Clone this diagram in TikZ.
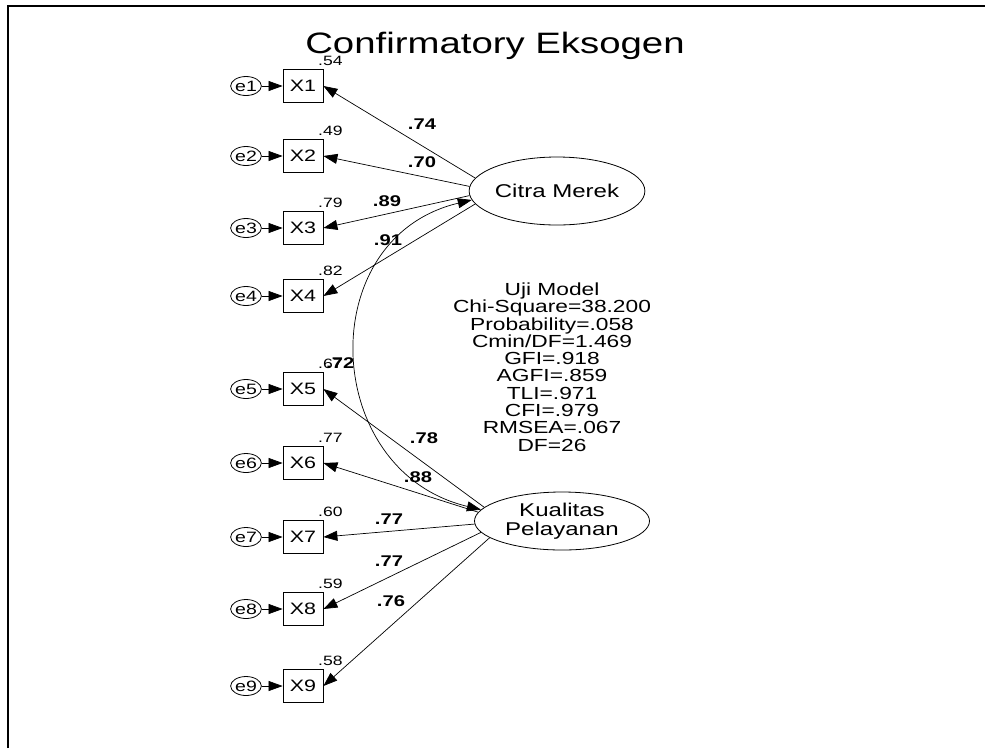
\documentclass[tikz,border=0pt]{standalone}
\usepackage{fontspec}
\setmainfont{Liberation Sans}[FakeStretch=1.3]
\usetikzlibrary{arrows.meta,shapes.geometric}
\begin{document}
\begin{tikzpicture}[x=1pt,y=-1pt,
  obs/.style={draw, line width=0.8pt, minimum width=40pt, minimum height=33pt, inner sep=0pt,
              font=\fontsize{16.5}{16.5}\selectfont},
  err/.style={draw, line width=0.8pt, ellipse, minimum width=30pt, minimum height=19pt, inner sep=0pt,
              font=\fontsize{15}{15}\selectfont},
  lat/.style={draw, line width=0.8pt, ellipse, inner sep=0pt, align=center,
              font=\fontsize{18.5}{19}\selectfont},
  arr/.style={line width=0.7pt, -{Triangle[length=14pt,width=10pt]}},
  earr/.style={line width=0.7pt, -{Triangle[length=14pt,width=10pt]}},
  var/.style={anchor=base west, inner sep=0pt, font=\fontsize{13.5}{13.5}\selectfont},
  lab/.style={inner sep=0pt, font=\bfseries\fontsize{15.5}{15.5}\selectfont},
]
\useasboundingbox (0,0) rectangle (985,748);
% frame edges
\draw[line width=2pt] (8,748) -- (8,6) -- (985,6);

% title
\node[anchor=base, font=\fontsize{29.5}{30}\selectfont] (title) at (495,53) {Confirmatory Eksogen};

% latent variables
\node[lat, minimum width=171pt, minimum height=68pt] (cm) at (557,191) {Citra Merek};
\node[lat, minimum width=175pt, minimum height=58pt] (kp) at (562,521) {Kualitas\\Pelayanan};

% indicators, errors and squared multiple correlations
\foreach \i/\y/\r in {1/86/.54, 2/156/.49, 3/228/.79, 4/296/.82, 5/389/.67, 6/463/.77, 7/537/.60, 8/609/.59, 9/686/.58}{
  \node[obs] (x\i) at (303,\y) {X\i};
  \node[err] (e\i) at (246,\y) {e\i};
  \draw[earr] (e\i) -- (x\i);
  \node[var] (r\i) at (318,\y-20.5) {\r};
}

% loadings
\draw[arr] (cm.171) -- (x1.east);
\draw[arr] (cm.177) -- (x2.east);
\draw[arr] (cm.183) -- (x3.east);
\draw[arr] (cm.189) -- (x4.east);
\draw[arr] (kp.170) -- (x5.east);
\draw[arr] (kp.174) -- (x6.east);
\draw[arr] (kp.182) -- (x7.east);
\draw[arr] (kp.188) -- (x8.east);
\draw[arr] (kp.193) -- (x9.east);

\node[lab] (l1) at (422,124) {.74};
\node[lab] (l2) at (422,162) {.70};
\node[lab] (l3) at (387,201) {.89};
\node[lab] (l4) at (388,240) {.91};
\node[lab] (l5) at (424,438) {.78};
\node[lab] (l6) at (418,477) {.88};
\node[lab] (l7) at (389,519) {.77};
\node[lab] (l8) at (389,561) {.77};
\node[lab] (l9) at (391,601) {.76};

% covariance between the latent variables
\draw[line width=0.7pt, {Triangle[length=14pt,width=10pt]}-{Triangle[length=14pt,width=10pt]}]
  (cm.186) .. controls +(-160,38) and +(-160,-38) .. (kp.172);
\node[lab, anchor=base west] (cv) at (326,368) {.72};

% fit statistics
\node[align=center, inner sep=0pt, font=\fontsize{17.5}{17.3}\selectfont] (fit) at (552,367)
  {Uji Model\\Chi-Square=38.200\\Probability=.058\\Cmin/DF=1.469\\GFI=.918\\AGFI=.859\\TLI=.971\\CFI=.979\\RMSEA=.067\\DF=26};
\end{tikzpicture}
\end{document}
